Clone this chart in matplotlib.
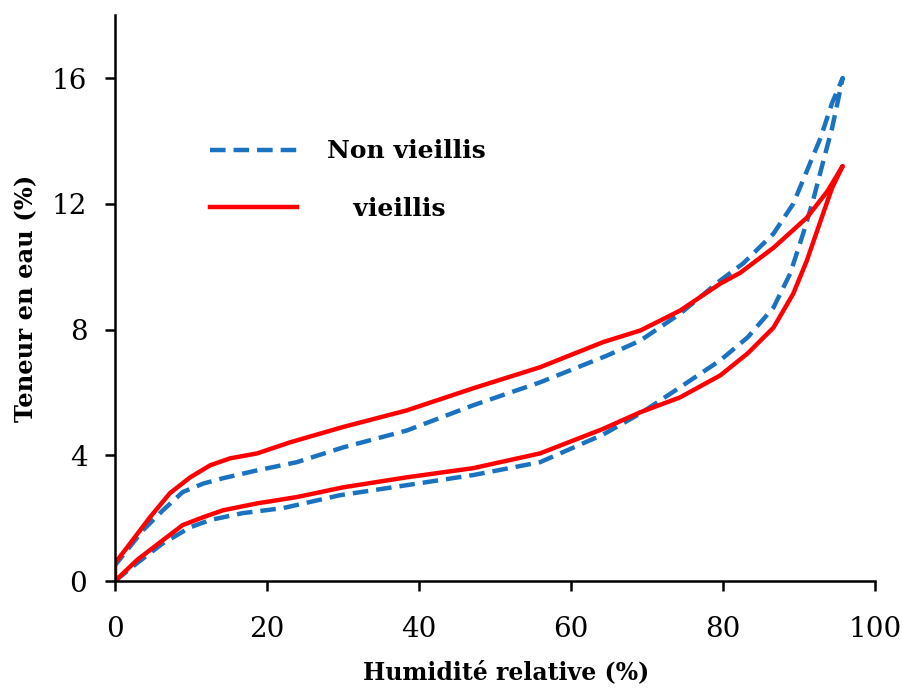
import matplotlib
matplotlib.use('Agg')
import matplotlib.pyplot as plt

# Non vieillis: adsorption branch then desorption branch (x = RH %, y = water content %)
nv_ads_x = [0, 2.9, 6.3, 9.9, 12.5, 16.8, 22.1, 29.6, 38.4, 47.1, 55.9, 64.2, 69.1, 74.3, 79.6,
            83.2, 86.6, 88.8, 90.5, 91.8, 93.2, 94.3, 95.1, 95.7]
nv_ads_y = [0, 0.57, 1.2, 1.71, 1.94, 2.16, 2.32, 2.73, 3.05, 3.37, 3.78, 4.66, 5.33, 6.16, 7.02,
            7.75, 8.7, 9.78, 11.05, 12.1, 13.4, 14.4, 15.3, 16.0]
nv_des_x = [95.7, 94.3, 92.8, 91.0, 89.2, 86.6, 82.6, 79.6, 74.3, 69.1, 64.7, 55.9, 47.1, 38.4,
            30.0, 23.9, 18.7, 14.2, 11.6, 8.9, 6.3, 3.7, 0]
nv_des_y = [16.0, 15.2, 14.1, 13.05, 12.0, 11.05, 10.1, 9.56, 8.5, 7.65, 7.17, 6.32, 5.59, 4.79,
            4.25, 3.78, 3.52, 3.27, 3.1, 2.83, 2.25, 1.62, 0.5]

# vieillis
v_ads_x = [0, 2.9, 6.3, 8.9, 11.6, 14.2, 18.7, 23.9, 30, 38.4, 47.1, 55.9, 64.2, 69.1, 74.3,
           79.6, 83.2, 86.6, 89.2, 91.0, 92.8, 94.3, 95.7]
v_ads_y = [0, 0.67, 1.3, 1.78, 2.03, 2.25, 2.47, 2.67, 2.98, 3.30, 3.59, 4.06, 4.84, 5.37, 5.84,
           6.54, 7.24, 8.06, 9.14, 10.2, 11.46, 12.5, 13.2]
v_des_x = [95.7, 93.7, 91.0, 86.6, 82.2, 79.6, 74.3, 69.1, 64.2, 55.9, 47.1, 38.4, 30, 23,
           18.7, 15.1, 12.5, 9.9, 7.2, 4.6, 2.0, 0, 0]
v_des_y = [13.2, 12.4, 11.56, 10.6, 9.8, 9.46, 8.6, 7.97, 7.6, 6.8, 6.13, 5.43, 4.9, 4.41,
           4.06, 3.9, 3.68, 3.3, 2.79, 2.03, 1.2, 0.57, 0]

x_ticks = [0, 20, 40, 60, 80, 100]
y_ticks = [0, 4, 8, 12, 16]

plt.rcParams['font.family'] = ['DejaVu Serif']

fig = plt.figure(figsize=(9.03, 6.88), dpi=100)
ax = fig.add_axes([0.1274, 0.1555, 0.842, 0.8225])

blue = '#1a72c0'
red = '#ff0000'

ax.plot(nv_ads_x + nv_des_x, nv_ads_y + nv_des_y, color=blue, lw=3.2,
        linestyle=(0, (3.5, 1.8)), dash_joinstyle='round', label='Non vieillis')
ax.plot(v_ads_x + v_des_x, v_ads_y + v_des_y, color=red, lw=3.2,
        solid_joinstyle='round', label='   vieillis')

ax.set_xlim(0, 100)
ax.set_ylim(0, 18)
ax.set_xticks(x_ticks)
ax.set_yticks(y_ticks)
ax.spines['top'].set_visible(False)
ax.spines['right'].set_visible(False)
ax.spines['left'].set_linewidth(1.8)
ax.spines['bottom'].set_linewidth(1.8)
ax.tick_params(axis='both', direction='out', length=7, width=1.8, labelsize=20)
ax.tick_params(axis='x', pad=18)
ax.tick_params(axis='y', pad=13)

ax.set_xlabel('Humidité relative (%)', fontsize=17, fontweight='bold')
ax.xaxis.set_label_coords(0.515, -0.14)
ax.set_ylabel('Teneur en eau (%)', fontsize=17.5, fontweight='bold', labelpad=10)

leg = ax.legend(loc='upper left', bbox_to_anchor=(0.095, 0.82), frameon=False,
                handlelength=3.5, handletextpad=1.2, labelspacing=1.35,
                prop={'weight': 'bold', 'size': 18})

fig.savefig('out.png', dpi=100)
